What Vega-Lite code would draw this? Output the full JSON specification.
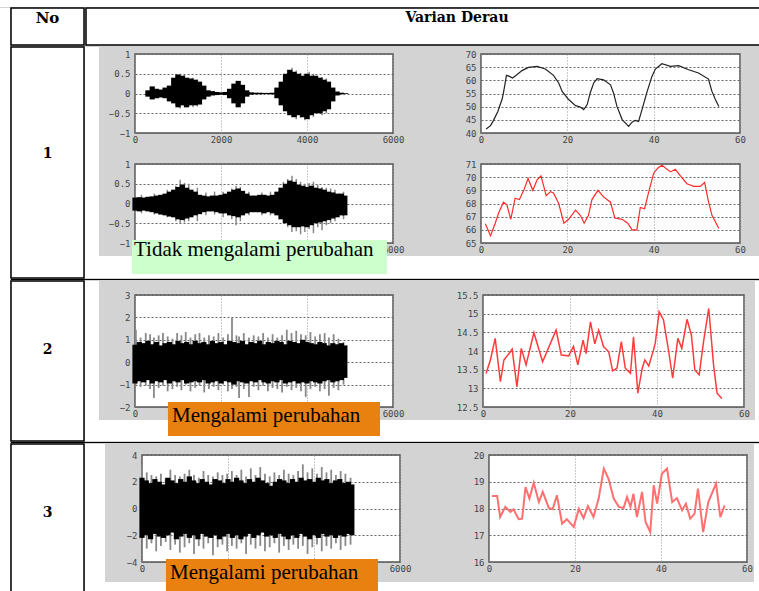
{
"$schema": "https://vega.github.io/schema/vega-lite/v6.json",
"padding": 0,
"background": "#d3d3d3",
"spacing": 0,
"datasets": {
"e": [],
"lab1": [{"label": "Tidak mengalami perubahan"}],
"lab2": [{"label": "Mengalami perubahan"}],
"a_b": [{"t":300,"lo":-0.08,"hi":0.08},{"t":400,"lo":-0.15,"hi":0.18},{"t":500,"lo":-0.12,"hi":0.12},{"t":600,"lo":-0.1,"hi":0.1},{"t":700,"lo":-0.12,"hi":0.15},{"t":800,"lo":-0.2,"hi":0.2},{"t":900,"lo":-0.25,"hi":0.4},{"t":1000,"lo":-0.35,"hi":0.48},{"t":1100,"lo":-0.3,"hi":0.45},{"t":1200,"lo":-0.35,"hi":0.4},{"t":1300,"lo":-0.3,"hi":0.38},{"t":1400,"lo":-0.3,"hi":0.35},{"t":1500,"lo":-0.28,"hi":0.3},{"t":1600,"lo":-0.15,"hi":0.2},{"t":1700,"lo":-0.08,"hi":0.08},{"t":1800,"lo":-0.05,"hi":0.06},{"t":1900,"lo":-0.04,"hi":0.04},{"t":2000,"lo":-0.03,"hi":0.03},{"t":2100,"lo":-0.04,"hi":0.04},{"t":2200,"lo":-0.12,"hi":0.12},{"t":2300,"lo":-0.25,"hi":0.25},{"t":2400,"lo":-0.35,"hi":0.32},{"t":2500,"lo":-0.25,"hi":0.22},{"t":2600,"lo":-0.08,"hi":0.08},{"t":2700,"lo":-0.03,"hi":0.03},{"t":2800,"lo":-0.02,"hi":0.02},{"t":2900,"lo":-0.02,"hi":0.02},{"t":3000,"lo":-0.015,"hi":0.015},{"t":3100,"lo":-0.015,"hi":0.015},{"t":3200,"lo":-0.02,"hi":0.02},{"t":3300,"lo":-0.12,"hi":0.15},{"t":3400,"lo":-0.3,"hi":0.3},{"t":3500,"lo":-0.45,"hi":0.5},{"t":3600,"lo":-0.55,"hi":0.6},{"t":3700,"lo":-0.6,"hi":0.55},{"t":3800,"lo":-0.55,"hi":0.5},{"t":3900,"lo":-0.6,"hi":0.45},{"t":4000,"lo":-0.65,"hi":0.5},{"t":4100,"lo":-0.55,"hi":0.45},{"t":4200,"lo":-0.5,"hi":0.45},{"t":4300,"lo":-0.5,"hi":0.4},{"t":4400,"lo":-0.45,"hi":0.35},{"t":4500,"lo":-0.4,"hi":0.3},{"t":4600,"lo":-0.2,"hi":0.15},{"t":4700,"lo":-0.05,"hi":0.05},{"t":4800,"lo":-0.02,"hi":0.02},{"t":4900,"lo":-0.01,"hi":0.01}],
"a_g": [{"t":950,"lo":-0.3,"hi":0.5},{"t":1050,"lo":-0.38,"hi":0.5},{"t":1150,"lo":-0.35,"hi":0.47},{"t":1350,"lo":-0.35,"hi":0.4},{"t":1450,"lo":-0.33,"hi":0.35},{"t":3550,"lo":-0.5,"hi":0.6},{"t":3650,"lo":-0.6,"hi":0.65},{"t":3750,"lo":-0.65,"hi":0.58},{"t":3850,"lo":-0.62,"hi":0.52},{"t":3950,"lo":-0.68,"hi":0.5},{"t":4050,"lo":-0.65,"hi":0.55},{"t":4150,"lo":-0.6,"hi":0.5},{"t":4350,"lo":-0.55,"hi":0.42},{"t":4450,"lo":-0.5,"hi":0.38}],
"c_b": [{"t":0,"lo":-0.18,"hi":0.15},{"t":100,"lo":-0.2,"hi":0.16},{"t":200,"lo":-0.18,"hi":0.15},{"t":300,"lo":-0.2,"hi":0.17},{"t":400,"lo":-0.22,"hi":0.18},{"t":500,"lo":-0.25,"hi":0.2},{"t":600,"lo":-0.28,"hi":0.22},{"t":700,"lo":-0.3,"hi":0.25},{"t":800,"lo":-0.33,"hi":0.3},{"t":900,"lo":-0.35,"hi":0.35},{"t":1000,"lo":-0.4,"hi":0.42},{"t":1100,"lo":-0.42,"hi":0.48},{"t":1200,"lo":-0.38,"hi":0.4},{"t":1300,"lo":-0.35,"hi":0.35},{"t":1400,"lo":-0.3,"hi":0.3},{"t":1500,"lo":-0.27,"hi":0.22},{"t":1600,"lo":-0.22,"hi":0.2},{"t":1700,"lo":-0.2,"hi":0.18},{"t":1800,"lo":-0.2,"hi":0.2},{"t":1900,"lo":-0.22,"hi":0.2},{"t":2000,"lo":-0.25,"hi":0.22},{"t":2100,"lo":-0.25,"hi":0.25},{"t":2200,"lo":-0.3,"hi":0.3},{"t":2300,"lo":-0.32,"hi":0.35},{"t":2400,"lo":-0.35,"hi":0.38},{"t":2500,"lo":-0.3,"hi":0.32},{"t":2600,"lo":-0.25,"hi":0.25},{"t":2700,"lo":-0.22,"hi":0.2},{"t":2800,"lo":-0.22,"hi":0.2},{"t":2900,"lo":-0.22,"hi":0.22},{"t":3000,"lo":-0.25,"hi":0.22},{"t":3100,"lo":-0.22,"hi":0.2},{"t":3200,"lo":-0.25,"hi":0.22},{"t":3300,"lo":-0.3,"hi":0.3},{"t":3400,"lo":-0.4,"hi":0.4},{"t":3500,"lo":-0.5,"hi":0.5},{"t":3600,"lo":-0.55,"hi":0.58},{"t":3700,"lo":-0.6,"hi":0.55},{"t":3800,"lo":-0.6,"hi":0.48},{"t":3900,"lo":-0.58,"hi":0.45},{"t":4000,"lo":-0.6,"hi":0.42},{"t":4100,"lo":-0.55,"hi":0.45},{"t":4200,"lo":-0.5,"hi":0.4},{"t":4300,"lo":-0.48,"hi":0.38},{"t":4400,"lo":-0.45,"hi":0.35},{"t":4500,"lo":-0.42,"hi":0.3},{"t":4600,"lo":-0.38,"hi":0.28},{"t":4700,"lo":-0.35,"hi":0.25},{"t":4800,"lo":-0.3,"hi":0.25},{"t":4880,"lo":-0.3,"hi":0.2}],
"c_g": [{"t":150,"lo":-0.25,"hi":0.22},{"t":450,"lo":-0.28,"hi":0.25},{"t":750,"lo":-0.35,"hi":0.35},{"t":950,"lo":-0.45,"hi":0.45},{"t":1050,"lo":-0.5,"hi":0.6},{"t":1150,"lo":-0.48,"hi":0.52},{"t":1250,"lo":-0.45,"hi":0.5},{"t":1450,"lo":-0.45,"hi":0.4},{"t":1650,"lo":-0.3,"hi":0.28},{"t":1850,"lo":-0.28,"hi":0.3},{"t":2050,"lo":-0.35,"hi":0.3},{"t":2250,"lo":-0.4,"hi":0.38},{"t":2350,"lo":-0.55,"hi":0.45},{"t":2450,"lo":-0.45,"hi":0.42},{"t":2650,"lo":-0.3,"hi":0.3},{"t":2950,"lo":-0.3,"hi":0.28},{"t":3150,"lo":-0.3,"hi":0.3},{"t":3350,"lo":-0.4,"hi":0.4},{"t":3450,"lo":-0.5,"hi":0.55},{"t":3550,"lo":-0.6,"hi":0.62},{"t":3650,"lo":-0.72,"hi":0.7},{"t":3750,"lo":-0.7,"hi":0.62},{"t":3850,"lo":-0.78,"hi":0.55},{"t":3950,"lo":-0.72,"hi":0.5},{"t":4050,"lo":-0.65,"hi":0.52},{"t":4150,"lo":-0.75,"hi":0.55},{"t":4250,"lo":-0.6,"hi":0.48},{"t":4350,"lo":-0.68,"hi":0.42},{"t":4450,"lo":-0.55,"hi":0.4},{"t":4550,"lo":-0.5,"hi":0.38},{"t":4650,"lo":-0.45,"hi":0.35},{"t":4850,"lo":-0.4,"hi":0.3}],
"b": [{"x":1.2,"v":41.5},{"x":2.2,"v":42.8},{"x":2.9,"v":44.8},{"x":3.9,"v":48.2},{"x":4.9,"v":52.9},{"x":5.2,"v":55.2},{"x":5.9,"v":61.9},{"x":6.6,"v":61.5},{"x":7.3,"v":60.9},{"x":8.3,"v":62.1},{"x":9.5,"v":63.7},{"x":11.0,"v":64.9},{"x":13.0,"v":65.3},{"x":14.9,"v":64.3},{"x":16.8,"v":61.9},{"x":18.0,"v":59.0},{"x":18.8,"v":55.8},{"x":20.3,"v":52.7},{"x":21.9,"v":50.4},{"x":23.0,"v":49.9},{"x":23.8,"v":48.9},{"x":24.6,"v":50.8},{"x":25.3,"v":55.2},{"x":26.1,"v":59.0},{"x":26.9,"v":60.6},{"x":28.4,"v":60.2},{"x":30.0,"v":58.3},{"x":30.7,"v":55.2},{"x":31.5,"v":50.1},{"x":32.7,"v":45.1},{"x":34.2,"v":42.5},{"x":35.0,"v":44.1},{"x":35.7,"v":44.8},{"x":36.5,"v":44.4},{"x":37.3,"v":48.9},{"x":38.5,"v":55.8},{"x":39.6,"v":61.5},{"x":40.4,"v":64.3},{"x":41.9,"v":66.3},{"x":43.9,"v":65.3},{"x":45.8,"v":65.6},{"x":48.1,"v":64.0},{"x":50.4,"v":62.8},{"x":52.7,"v":60.5},{"x":53.5,"v":55.8},{"x":54.3,"v":52.7},{"x":55.1,"v":50.1}],
"d": [{"x":1.0,"v":66.47},{"x":2.2,"v":65.56},{"x":3.3,"v":66.5},{"x":4.1,"v":67.3},{"x":5.2,"v":68.1},{"x":6.0,"v":67.9},{"x":6.9,"v":66.8},{"x":7.9,"v":68.4},{"x":8.9,"v":68.3},{"x":9.9,"v":69.0},{"x":10.9,"v":69.9},{"x":12.0,"v":69.0},{"x":13.0,"v":69.8},{"x":13.9,"v":70.1},{"x":15.1,"v":68.6},{"x":16.1,"v":68.9},{"x":16.8,"v":68.8},{"x":18.0,"v":68.0},{"x":19.2,"v":66.5},{"x":20.3,"v":66.8},{"x":21.9,"v":67.5},{"x":23.0,"v":67.1},{"x":23.9,"v":66.5},{"x":24.9,"v":67.1},{"x":25.7,"v":68.3},{"x":27.1,"v":69.0},{"x":28.4,"v":68.5},{"x":30.0,"v":68.1},{"x":31.0,"v":66.9},{"x":32.7,"v":66.8},{"x":34.0,"v":66.5},{"x":35.0,"v":66.0},{"x":36.1,"v":66.0},{"x":36.9,"v":67.7},{"x":37.9,"v":67.6},{"x":38.8,"v":68.8},{"x":40.0,"v":70.3},{"x":41.0,"v":70.7},{"x":41.9,"v":70.9},{"x":43.9,"v":70.4},{"x":45.0,"v":70.6},{"x":46.2,"v":70.1},{"x":47.7,"v":69.5},{"x":49.3,"v":69.3},{"x":50.8,"v":69.3},{"x":51.8,"v":69.6},{"x":52.6,"v":68.3},{"x":53.5,"v":67.1},{"x":55.1,"v":66.1}],
"r2l_b": [{"t":0,"lo":-0.95,"hi":0.78},{"t":100,"lo":-0.85,"hi":0.9},{"t":200,"lo":-0.9,"hi":0.85},{"t":300,"lo":-0.8,"hi":0.95},{"t":400,"lo":-0.95,"hi":0.8},{"t":500,"lo":-0.85,"hi":0.9},{"t":600,"lo":-0.9,"hi":0.75},{"t":700,"lo":-0.8,"hi":0.85},{"t":800,"lo":-0.95,"hi":0.9},{"t":900,"lo":-0.85,"hi":0.8},{"t":1000,"lo":-0.9,"hi":0.95},{"t":1100,"lo":-0.8,"hi":0.85},{"t":1200,"lo":-0.95,"hi":0.9},{"t":1300,"lo":-0.9,"hi":0.8},{"t":1400,"lo":-0.85,"hi":0.95},{"t":1500,"lo":-0.9,"hi":0.85},{"t":1600,"lo":-0.8,"hi":0.9},{"t":1700,"lo":-0.95,"hi":0.8},{"t":1800,"lo":-0.9,"hi":0.95},{"t":1900,"lo":-0.85,"hi":0.85},{"t":2000,"lo":-0.95,"hi":0.9},{"t":2100,"lo":-0.85,"hi":0.8},{"t":2200,"lo":-0.9,"hi":0.95},{"t":2300,"lo":-1.0,"hi":0.9},{"t":2400,"lo":-0.85,"hi":0.85},{"t":2500,"lo":-0.9,"hi":0.95},{"t":2600,"lo":-0.95,"hi":0.8},{"t":2700,"lo":-0.85,"hi":0.9},{"t":2800,"lo":-0.9,"hi":0.85},{"t":2900,"lo":-0.8,"hi":0.95},{"t":3000,"lo":-0.9,"hi":0.8},{"t":3100,"lo":-0.95,"hi":0.9},{"t":3200,"lo":-0.85,"hi":0.85},{"t":3300,"lo":-0.9,"hi":0.95},{"t":3400,"lo":-0.8,"hi":0.9},{"t":3500,"lo":-0.95,"hi":0.8},{"t":3600,"lo":-0.9,"hi":0.95},{"t":3700,"lo":-0.85,"hi":0.9},{"t":3800,"lo":-0.95,"hi":0.85},{"t":3900,"lo":-0.9,"hi":1.0},{"t":4000,"lo":-0.95,"hi":0.9},{"t":4100,"lo":-0.85,"hi":0.85},{"t":4200,"lo":-0.9,"hi":0.8},{"t":4300,"lo":-0.95,"hi":0.9},{"t":4400,"lo":-0.85,"hi":0.85},{"t":4500,"lo":-0.8,"hi":0.75},{"t":4600,"lo":-0.9,"hi":0.85},{"t":4700,"lo":-0.85,"hi":0.8},{"t":4800,"lo":-0.8,"hi":0.85},{"t":4880,"lo":-0.7,"hi":0.75}],
"r2l_g": [{"t":20,"lo":-1.0,"hi":1.45},{"t":130,"lo":-1.1,"hi":1.1},{"t":250,"lo":-1.05,"hi":1.3},{"t":350,"lo":-1.2,"hi":1.25},{"t":440,"lo":-1.6,"hi":1.1},{"t":550,"lo":-1.15,"hi":1.2},{"t":650,"lo":-1.05,"hi":1.3},{"t":760,"lo":-1.3,"hi":1.15},{"t":870,"lo":-1.2,"hi":1.05},{"t":980,"lo":-1.1,"hi":1.3},{"t":1080,"lo":-1.25,"hi":1.2},{"t":1180,"lo":-1.0,"hi":1.35},{"t":1290,"lo":-1.3,"hi":1.1},{"t":1400,"lo":-1.15,"hi":1.25},{"t":1500,"lo":-1.05,"hi":1.3},{"t":1610,"lo":-1.35,"hi":1.1},{"t":1720,"lo":-1.2,"hi":1.2},{"t":1830,"lo":-1.1,"hi":1.15},{"t":1940,"lo":-1.25,"hi":1.3},{"t":2050,"lo":-1.0,"hi":1.1},{"t":2160,"lo":-1.3,"hi":1.25},{"t":2256,"lo":-1.2,"hi":2.0},{"t":2360,"lo":-1.1,"hi":1.2},{"t":2420,"lo":-1.6,"hi":1.15},{"t":2530,"lo":-1.2,"hi":1.3},{"t":2650,"lo":-1.55,"hi":1.1},{"t":2760,"lo":-1.1,"hi":1.2},{"t":2870,"lo":-1.25,"hi":1.15},{"t":2980,"lo":-1.05,"hi":1.3},{"t":3090,"lo":-1.3,"hi":1.1},{"t":3200,"lo":-1.15,"hi":1.25},{"t":3310,"lo":-1.2,"hi":1.1},{"t":3420,"lo":-1.35,"hi":1.2},{"t":3530,"lo":-1.1,"hi":1.45},{"t":3640,"lo":-1.25,"hi":1.3},{"t":3750,"lo":-1.15,"hi":1.4},{"t":3860,"lo":-1.3,"hi":1.25},{"t":3970,"lo":-1.55,"hi":1.2},{"t":4080,"lo":-1.2,"hi":1.35},{"t":4190,"lo":-1.1,"hi":1.15},{"t":4300,"lo":-1.3,"hi":1.25},{"t":4410,"lo":-1.2,"hi":1.3},{"t":4510,"lo":-1.5,"hi":1.1},{"t":4620,"lo":-1.15,"hi":1.25},{"t":4730,"lo":-1.25,"hi":1.05},{"t":4850,"lo":-1.0,"hi":0.9}],
"r2r": [{"x":0.7,"v":13.40},{"x":1.7,"v":13.76},{"x":2.8,"v":14.34},{"x":4.0,"v":13.18},{"x":4.8,"v":13.76},{"x":6.3,"v":13.98},{"x":6.7,"v":14.05},{"x":7.8,"v":13.04},{"x":8.8,"v":14.07},{"x":9.9,"v":13.63},{"x":11.7,"v":14.49},{"x":13.7,"v":13.71},{"x":16.8,"v":14.56},{"x":18.0,"v":13.89},{"x":19.7,"v":13.87},{"x":20.8,"v":14.12},{"x":21.8,"v":13.63},{"x":23.0,"v":14.29},{"x":23.7,"v":13.93},{"x":24.7,"v":14.78},{"x":25.7,"v":14.19},{"x":26.6,"v":14.56},{"x":27.7,"v":14.12},{"x":28.9,"v":13.98},{"x":29.8,"v":13.47},{"x":30.8,"v":13.54},{"x":31.8,"v":14.25},{"x":32.7,"v":13.54},{"x":33.9,"v":13.40},{"x":34.6,"v":14.38},{"x":35.6,"v":12.87},{"x":36.6,"v":13.54},{"x":37.2,"v":13.76},{"x":38.1,"v":13.60},{"x":39.2,"v":14.03},{"x":39.6,"v":14.21},{"x":40.5,"v":15.05},{"x":41.5,"v":14.83},{"x":42.7,"v":13.98},{"x":43.6,"v":13.27},{"x":44.8,"v":14.34},{"x":45.7,"v":14.07},{"x":46.9,"v":14.85},{"x":47.9,"v":14.43},{"x":48.7,"v":13.49},{"x":49.7,"v":13.36},{"x":50.7,"v":14.25},{"x":51.9,"v":15.14},{"x":53.0,"v":13.63},{"x":53.8,"v":12.87},{"x":54.9,"v":12.73}],
"r3l_b": [{"t":0,"lo":-2.2,"hi":2.3},{"t":100,"lo":-2.0,"hi":2.1},{"t":200,"lo":-2.3,"hi":1.9},{"t":300,"lo":-1.9,"hi":2.2},{"t":400,"lo":-2.1,"hi":2.0},{"t":500,"lo":-2.2,"hi":1.8},{"t":600,"lo":-2.0,"hi":2.3},{"t":700,"lo":-1.8,"hi":2.1},{"t":800,"lo":-2.3,"hi":1.9},{"t":900,"lo":-2.1,"hi":2.2},{"t":1000,"lo":-1.9,"hi":2.0},{"t":1100,"lo":-2.2,"hi":2.4},{"t":1200,"lo":-2.0,"hi":2.1},{"t":1300,"lo":-2.3,"hi":1.9},{"t":1400,"lo":-1.9,"hi":2.2},{"t":1500,"lo":-2.1,"hi":2.0},{"t":1600,"lo":-2.2,"hi":1.8},{"t":1700,"lo":-2.0,"hi":2.2},{"t":1800,"lo":-2.3,"hi":2.1},{"t":1900,"lo":-2.1,"hi":1.9},{"t":2000,"lo":-1.9,"hi":2.2},{"t":2100,"lo":-2.2,"hi":2.0},{"t":2200,"lo":-2.0,"hi":2.3},{"t":2300,"lo":-2.3,"hi":2.1},{"t":2400,"lo":-2.1,"hi":1.9},{"t":2500,"lo":-1.9,"hi":2.2},{"t":2600,"lo":-2.2,"hi":2.0},{"t":2700,"lo":-2.0,"hi":2.3},{"t":2800,"lo":-1.8,"hi":2.1},{"t":2900,"lo":-2.1,"hi":1.9},{"t":3000,"lo":-2.0,"hi":1.7},{"t":3100,"lo":-2.2,"hi":2.0},{"t":3200,"lo":-1.9,"hi":2.2},{"t":3300,"lo":-2.1,"hi":2.1},{"t":3400,"lo":-2.3,"hi":1.9},{"t":3500,"lo":-2.0,"hi":2.2},{"t":3600,"lo":-2.2,"hi":2.0},{"t":3700,"lo":-1.9,"hi":2.3},{"t":3800,"lo":-2.1,"hi":2.1},{"t":3900,"lo":-2.3,"hi":2.2},{"t":4000,"lo":-2.0,"hi":2.0},{"t":4100,"lo":-2.2,"hi":2.3},{"t":4200,"lo":-1.9,"hi":2.1},{"t":4300,"lo":-2.1,"hi":2.2},{"t":4400,"lo":-2.0,"hi":1.9},{"t":4500,"lo":-2.2,"hi":2.1},{"t":4600,"lo":-2.0,"hi":2.2},{"t":4700,"lo":-2.1,"hi":1.9},{"t":4800,"lo":-1.9,"hi":2.0},{"t":4880,"lo":-2.0,"hi":1.8}],
"r3l_g": [{"t":0,"lo":-2.4,"hi":3.2},{"t":110,"lo":-3.0,"hi":2.7},{"t":220,"lo":-2.6,"hi":2.5},{"t":330,"lo":-3.2,"hi":2.4},{"t":440,"lo":-2.8,"hi":2.6},{"t":550,"lo":-2.5,"hi":2.2},{"t":660,"lo":-3.1,"hi":2.9},{"t":770,"lo":-2.7,"hi":2.5},{"t":880,"lo":-3.3,"hi":2.4},{"t":990,"lo":-2.9,"hi":2.6},{"t":1100,"lo":-2.6,"hi":2.9},{"t":1210,"lo":-3.4,"hi":2.5},{"t":1320,"lo":-2.8,"hi":2.3},{"t":1430,"lo":-3.0,"hi":2.8},{"t":1540,"lo":-2.6,"hi":2.5},{"t":1650,"lo":-3.5,"hi":2.4},{"t":1760,"lo":-2.9,"hi":2.7},{"t":1870,"lo":-2.7,"hi":2.5},{"t":1980,"lo":-3.2,"hi":2.6},{"t":2090,"lo":-2.8,"hi":2.8},{"t":2200,"lo":-3.0,"hi":2.5},{"t":2310,"lo":-2.6,"hi":2.9},{"t":2420,"lo":-3.4,"hi":2.4},{"t":2530,"lo":-2.7,"hi":3.0},{"t":2640,"lo":-3.0,"hi":2.5},{"t":2750,"lo":-2.8,"hi":3.1},{"t":2860,"lo":-3.2,"hi":2.6},{"t":2970,"lo":-2.9,"hi":2.4},{"t":3080,"lo":-2.6,"hi":2.7},{"t":3190,"lo":-3.3,"hi":2.5},{"t":3300,"lo":-2.8,"hi":2.9},{"t":3410,"lo":-3.1,"hi":2.6},{"t":3520,"lo":-2.7,"hi":2.5},{"t":3630,"lo":-3.0,"hi":2.8},{"t":3740,"lo":-2.8,"hi":3.3},{"t":3850,"lo":-3.4,"hi":2.7},{"t":3960,"lo":-2.9,"hi":3.0},{"t":4070,"lo":-2.7,"hi":2.6},{"t":4180,"lo":-3.2,"hi":3.1},{"t":4290,"lo":-2.8,"hi":2.7},{"t":4400,"lo":-3.0,"hi":2.9},{"t":4510,"lo":-2.6,"hi":2.5},{"t":4620,"lo":-3.1,"hi":2.8},{"t":4730,"lo":-2.8,"hi":2.6},{"t":4850,"lo":-2.7,"hi":2.3}],
"r3r": [{"x":0.7,"v":18.47},{"x":1.9,"v":18.47},{"x":2.6,"v":17.68},{"x":3.8,"v":18.06},{"x":5.0,"v":17.87},{"x":5.7,"v":17.97},{"x":6.9,"v":17.60},{"x":7.7,"v":17.62},{"x":8.5,"v":18.80},{"x":9.4,"v":18.37},{"x":10.4,"v":18.96},{"x":11.6,"v":18.24},{"x":12.5,"v":18.62},{"x":13.9,"v":18.02},{"x":14.8,"v":17.97},{"x":15.8,"v":18.49},{"x":17.0,"v":17.43},{"x":18.1,"v":17.60},{"x":19.7,"v":17.31},{"x":20.9,"v":17.99},{"x":22.0,"v":17.64},{"x":23.0,"v":18.09},{"x":24.3,"v":17.68},{"x":25.5,"v":18.37},{"x":26.7,"v":19.49},{"x":27.8,"v":19.11},{"x":29.0,"v":18.37},{"x":30.2,"v":18.06},{"x":31.3,"v":18.02},{"x":32.1,"v":18.43},{"x":32.9,"v":18.06},{"x":33.6,"v":18.55},{"x":34.4,"v":17.68},{"x":35.6,"v":18.62},{"x":36.4,"v":17.50},{"x":37.5,"v":17.12},{"x":38.3,"v":18.87},{"x":39.1,"v":18.18},{"x":40.2,"v":19.30},{"x":41.4,"v":19.49},{"x":42.6,"v":18.24},{"x":43.7,"v":18.39},{"x":44.9,"v":17.93},{"x":45.8,"v":18.18},{"x":46.8,"v":17.62},{"x":47.8,"v":17.81},{"x":48.6,"v":18.74},{"x":49.8,"v":17.12},{"x":51.0,"v":18.24},{"x":52.3,"v":18.74},{"x":52.8,"v":18.93},{"x":53.8,"v":17.68},{"x":54.8,"v":18.12}]
},
"vconcat": [
{"width":759,"height":7,"view":{"fill":"white"},"data":{"name":"e"},"mark":"point"},
{"spacing":0,"hconcat":[
{"width":10,"height":584,"view":{"fill":"white"},"data":{"name":"e"},"mark":"point"},
{"spacing":0,"vconcat":[
{"spacing":0,"hconcat":[
{"width":73,"height":37,"view":{"fill":"white","stroke":"black","strokeWidth":1.5},"data":{"values":[{"t":"No"}]},"mark":{"type":"text","font":"DejaVu Serif","fontWeight":"bold","fontSize":15,"dy":-9,"color":"black"},"encoding":{"text":{"field":"t"}}},
{"width":676,"height":37,"view":{"fill":"white","stroke":"black","strokeWidth":1.5},"data":{"values":[{"t":"Varian Derau"}]},"mark":{"type":"text","font":"DejaVu Serif","fontWeight":"bold","fontSize":14,"dy":-9,"dx":33,"color":"black"},"encoding":{"text":{"field":"t"}}}
]},
{"spacing":0,"hconcat":[
{"width":73,"height":231,"view":{"fill":"white","stroke":"black","strokeWidth":1.5},"data":{"values":[{"t":"1"}]},"mark":{"type":"text","font":"DejaVu Serif","fontWeight":"bold","fontSize":14,"dy":-9,"color":"black"},"encoding":{"text":{"field":"t"}}},
{"columns":6,"spacing":0,"bounds":"flush","align":"each","concat":[
{"width":14,"height":7,"view":{"fill":"white"},"data":{"name":"e"},"mark":"point"},
{"width":36,"height":1,"data":{"name":"e"},"mark":"point"},
{"width":258,"height":1,"data":{"name":"e"},"mark":"point"},
{"width":88,"height":1,"data":{"name":"e"},"mark":"point"},
{"width":259,"height":1,"data":{"name":"e"},"mark":"point"},
{"width":21,"height":1,"data":{"name":"e"},"mark":"point"},

{"width":14,"height":79,"view":{"fill":"white"},"data":{"name":"e"},"mark":"point"},
{"width":1,"height":1,"data":{"name":"e"},"mark":"point"},
{"width":258,"height":79,"view":{"fill":"white","stroke":"#555","strokeWidth":1.5},
 "encoding":{"x":{"field":"t","type":"quantitative","scale":{"domain":[0,6000],"nice":false},"axis":{"values":[0,2000,4000,6000],"format":"d","title":null}},"y":{"field":"lo","type":"quantitative","scale":{"domain":[-1,1],"nice":false},"axis":{"values":[-1,-0.5,0,0.5,1],"format":"~g","title":null}},"y2":{"field":"hi"}},
 "layer":[{"data":{"name":"a_g"},"mark":{"type":"rule","color":"#888","strokeWidth":1.5}},{"data":{"name":"a_b"},"mark":{"type":"rule","color":"black","strokeWidth":5.2}}]},
{"width":1,"height":1,"data":{"name":"e"},"mark":"point"},
{"width":259,"height":79,"view":{"fill":"white","stroke":"#555","strokeWidth":1.5},"data":{"name":"b"},"mark":{"type":"line","color":"#222","strokeWidth":1.2},
 "encoding":{"x":{"field":"x","type":"quantitative","scale":{"domain":[0,60],"nice":false},"axis":{"values":[0,20,40,60],"title":null}},"y":{"field":"v","type":"quantitative","scale":{"domain":[40,70],"nice":false},"axis":{"values":[40,45,50,55,60,65,70],"format":"~g","title":null}}}},
{"width":1,"height":1,"data":{"name":"e"},"mark":"point"},

{"width":14,"height":31,"view":{"fill":"white"},"data":{"name":"e"},"mark":"point"},
{"width":1,"height":1,"data":{"name":"e"},"mark":"point"},
{"width":1,"height":1,"data":{"name":"e"},"mark":"point"},
{"width":1,"height":1,"data":{"name":"e"},"mark":"point"},
{"width":1,"height":1,"data":{"name":"e"},"mark":"point"},
{"width":1,"height":1,"data":{"name":"e"},"mark":"point"},

{"width":14,"height":79,"view":{"fill":"white"},"data":{"name":"e"},"mark":"point"},
{"width":1,"height":1,"data":{"name":"e"},"mark":"point"},
{"width":258,"height":79,"view":{"fill":"white","stroke":"#555","strokeWidth":1.5},
 "encoding":{"x":{"field":"t","type":"quantitative","scale":{"domain":[0,6000],"nice":false},"axis":{"values":[0,2000,4000,6000],"format":"d","title":null,"labelExpr":"datum.value == 6000 ? datum.label : ''"}},"y":{"field":"lo","type":"quantitative","scale":{"domain":[-1,1],"nice":false},"axis":{"values":[-1,-0.5,0,0.5,1],"format":"~g","title":null}},"y2":{"field":"hi"}},
 "layer":[{"data":{"name":"c_g"},"mark":{"type":"rule","color":"#888","strokeWidth":1.5}},{"data":{"name":"c_b"},"mark":{"type":"rule","color":"black","strokeWidth":5.2}}]},
{"width":1,"height":1,"data":{"name":"e"},"mark":"point"},
{"width":259,"height":79,"view":{"fill":"white","stroke":"#555","strokeWidth":1.5},"data":{"name":"d"},"mark":{"type":"line","color":"#ff2a2a","strokeWidth":1.2},
 "encoding":{"x":{"field":"x","type":"quantitative","scale":{"domain":[0,60],"nice":false},"axis":{"values":[0,20,40,60],"title":null}},"y":{"field":"v","type":"quantitative","scale":{"domain":[65,71],"nice":false},"axis":{"values":[65,66,67,68,69,70,71],"format":"~g","title":null}}}},
{"width":1,"height":1,"data":{"name":"e"},"mark":"point"},

{"width":14,"height":13,"view":{"fill":"white"},"data":{"name":"e"},"mark":"point"},
{"width":1,"height":1,"data":{"name":"e"},"mark":"point"},
{"width":1,"height":1,"data":{"name":"e"},"mark":"point"},
{"width":1,"height":1,"data":{"name":"e"},"mark":"point"},
{"width":1,"height":1,"data":{"name":"e"},"mark":"point"},
{"width":1,"height":1,"data":{"name":"e"},"mark":"point"},

{"width":14,"height":22,"view":{"fill":"white"},"data":{"name":"e"},"mark":"point"},
{"width":36,"height":22,"view":{"fill":"white"},"data":{"name":"e"},"mark":"point"},
{"width":258,"height":22,"view":{"fill":"white"},"data":{"name":"lab1"},
 "layer":[
 {"mark":{"type":"rect","fill":"#ccffcc"},"encoding":{"x":{"datum":-70,"type":"quantitative","scale":{"domain":[0,6000],"nice":false,"zero":false},"axis":null},"x2":{"datum":5860},"y":{"datum":-0.924,"type":"quantitative","scale":{"domain":[-1.886,-1.329],"nice":false,"zero":false},"axis":null},"y2":{"datum":-1.785}}},
 {"mark":{"type":"text","align":"left","baseline":"alphabetic","font":"Liberation Serif","fontSize":21,"color":"black"},"encoding":{"x":{"datum":-23,"type":"quantitative"},"y":{"datum":-1.337,"type":"quantitative"},"text":{"field":"label"}}}
 ]},
{"width":88,"height":22,"view":{"fill":"white"},"data":{"name":"e"},"mark":"point"},
{"width":259,"height":22,"view":{"fill":"white"},"data":{"name":"e"},"mark":"point"},
{"width":21,"height":22,"view":{"fill":"white"},"data":{"name":"e"},"mark":"point"}
]}
]},
{"width":749,"height":1,"view":{"fill":"black"},"data":{"name":"e"},"mark":"point"},
{"spacing":0,"hconcat":[
{"width":73,"height":160,"view":{"fill":"white","stroke":"black","strokeWidth":1.5},"data":{"values":[{"t":"2"}]},"mark":{"type":"text","font":"DejaVu Serif","fontWeight":"bold","fontSize":14,"dy":-11,"color":"black"},"encoding":{"text":{"field":"t"}}},
{"columns":7,"spacing":0,"bounds":"flush","align":"each","concat":[
{"width":14,"height":14,"view":{"fill":"white"},"data":{"name":"e"},"mark":"point"},
{"width":36,"height":1,"data":{"name":"e"},"mark":"point"},
{"width":258,"height":1,"data":{"name":"e"},"mark":"point"},
{"width":90,"height":1,"data":{"name":"e"},"mark":"point"},
{"width":261,"height":1,"data":{"name":"e"},"mark":"point"},
{"width":11,"height":1,"data":{"name":"e"},"mark":"point"},
{"width":6,"height":14,"view":{"fill":"white"},"data":{"name":"e"},"mark":"point"},

{"width":14,"height":112,"view":{"fill":"white"},"data":{"name":"e"},"mark":"point"},
{"width":1,"height":1,"data":{"name":"e"},"mark":"point"},
{"width":258,"height":112,"view":{"fill":"white","stroke":"#555","strokeWidth":1.5},
 "encoding":{"x":{"field":"t","type":"quantitative","scale":{"domain":[0,6000],"nice":false},"axis":{"values":[0,2000,4000,6000],"format":"d","title":null,"labelExpr":"datum.value == 2000 || datum.value == 4000 ? '' : datum.label"}},"y":{"field":"lo","type":"quantitative","scale":{"domain":[-2,3],"nice":false},"axis":{"values":[-2,-1,0,1,2,3],"format":"~g","title":null}},"y2":{"field":"hi"}},
 "layer":[{"data":{"name":"r2l_g"},"mark":{"type":"rule","color":"#888","strokeWidth":1.8}},{"data":{"name":"r2l_b"},"mark":{"type":"rule","color":"black","strokeWidth":5.2}}]},
{"width":1,"height":1,"data":{"name":"e"},"mark":"point"},
{"width":261,"height":112,"view":{"fill":"white","stroke":"#555","strokeWidth":1.5},"data":{"name":"r2r"},"mark":{"type":"line","color":"#ff3b3b","strokeWidth":1.5},
 "encoding":{"x":{"field":"x","type":"quantitative","scale":{"domain":[0,60],"nice":false},"axis":{"values":[0,20,40,60],"title":null}},"y":{"field":"v","type":"quantitative","scale":{"domain":[12.5,15.5],"nice":false},"axis":{"values":[12.5,13,13.5,14,14.5,15,15.5],"format":"~g","title":null}}}},
{"width":1,"height":1,"data":{"name":"e"},"mark":"point"},
{"width":6,"height":112,"view":{"fill":"white"},"data":{"name":"e"},"mark":"point"},

{"width":14,"height":13,"view":{"fill":"white"},"data":{"name":"e"},"mark":"point"},
{"width":1,"height":1,"data":{"name":"e"},"mark":"point"},
{"width":1,"height":1,"data":{"name":"e"},"mark":"point"},
{"width":1,"height":1,"data":{"name":"e"},"mark":"point"},
{"width":1,"height":1,"data":{"name":"e"},"mark":"point"},
{"width":1,"height":1,"data":{"name":"e"},"mark":"point"},
{"width":6,"height":13,"view":{"fill":"white"},"data":{"name":"e"},"mark":"point"},

{"width":14,"height":21,"view":{"fill":"white"},"data":{"name":"e"},"mark":"point"},
{"width":36,"height":21,"view":{"fill":"white"},"data":{"name":"e"},"mark":"point"},
{"width":258,"height":21,"view":{"fill":"white"},"data":{"name":"lab2"},
 "layer":[
 {"mark":{"type":"rect","fill":"#e8810f"},"encoding":{"x":{"datum":767,"type":"quantitative","scale":{"domain":[0,6000],"nice":false,"zero":false},"axis":null},"x2":{"datum":5698},"y":{"datum":-1.777,"type":"quantitative","scale":{"domain":[-3.518,-2.58],"nice":false,"zero":false},"axis":null},"y2":{"datum":-3.295}}},
 {"mark":{"type":"text","align":"left","baseline":"alphabetic","font":"Liberation Serif","fontSize":21,"color":"black"},"encoding":{"x":{"datum":860,"type":"quantitative"},"y":{"datum":-2.67,"type":"quantitative"},"text":{"field":"label"}}}
 ]},
{"width":90,"height":21,"view":{"fill":"white"},"data":{"name":"e"},"mark":"point"},
{"width":261,"height":21,"view":{"fill":"white"},"data":{"name":"e"},"mark":"point"},
{"width":11,"height":21,"view":{"fill":"white"},"data":{"name":"e"},"mark":"point"},
{"width":6,"height":21,"view":{"fill":"white"},"data":{"name":"e"},"mark":"point"}
]}
]},
{"width":749,"height":1,"view":{"fill":"black"},"data":{"name":"e"},"mark":"point"},
{"spacing":0,"hconcat":[
{"width":73,"height":154,"view":{"fill":"white","stroke":"black","strokeWidth":1.5},"data":{"values":[{"t":"3"}]},"mark":{"type":"text","font":"DejaVu Serif","fontWeight":"bold","fontSize":14,"dy":-8,"color":"black"},"encoding":{"text":{"field":"t"}}},
{"columns":7,"spacing":0,"bounds":"flush","align":"each","concat":[
{"width":20,"height":11,"view":{"fill":"white"},"data":{"name":"e"},"mark":"point"},
{"width":37,"height":1,"data":{"name":"e"},"mark":"point"},
{"width":258,"height":1,"data":{"name":"e"},"mark":"point"},
{"width":89,"height":1,"data":{"name":"e"},"mark":"point"},
{"width":258,"height":1,"data":{"name":"e"},"mark":"point"},
{"width":7,"height":1,"data":{"name":"e"},"mark":"point"},
{"width":7,"height":11,"view":{"fill":"white"},"data":{"name":"e"},"mark":"point"},

{"width":20,"height":107,"view":{"fill":"white"},"data":{"name":"e"},"mark":"point"},
{"width":1,"height":1,"data":{"name":"e"},"mark":"point"},
{"width":258,"height":107,"view":{"fill":"white","stroke":"#555","strokeWidth":1.5},
 "encoding":{"x":{"field":"t","type":"quantitative","scale":{"domain":[0,6000],"nice":false},"axis":{"values":[0,2000,4000,6000],"format":"d","title":null,"labelExpr":"datum.value == 2000 || datum.value == 4000 ? '' : datum.label"}},"y":{"field":"lo","type":"quantitative","scale":{"domain":[-4,4],"nice":false},"axis":{"values":[-4,-2,0,2,4],"format":"~g","title":null}},"y2":{"field":"hi"}},
 "layer":[{"data":{"name":"r3l_g"},"mark":{"type":"rule","color":"#888","strokeWidth":1.8}},{"data":{"name":"r3l_b"},"mark":{"type":"rule","color":"black","strokeWidth":5.2}}]},
{"width":1,"height":1,"data":{"name":"e"},"mark":"point"},
{"width":258,"height":107,"view":{"fill":"white","stroke":"#555","strokeWidth":1.5},"data":{"name":"r3r"},"mark":{"type":"line","color":"#ff7070","strokeWidth":2},
 "encoding":{"x":{"field":"x","type":"quantitative","scale":{"domain":[0,60],"nice":false},"axis":{"values":[0,20,40,60],"title":null}},"y":{"field":"v","type":"quantitative","scale":{"domain":[16,20],"nice":false},"axis":{"values":[16,17,18,19,20],"format":"~g","title":null}}}},
{"width":1,"height":1,"data":{"name":"e"},"mark":"point"},
{"width":7,"height":107,"view":{"fill":"white"},"data":{"name":"e"},"mark":"point"},

{"width":20,"height":20,"view":{"fill":"white"},"data":{"name":"e"},"mark":"point"},
{"width":1,"height":1,"data":{"name":"e"},"mark":"point"},
{"width":1,"height":1,"data":{"name":"e"},"mark":"point"},
{"width":1,"height":1,"data":{"name":"e"},"mark":"point"},
{"width":1,"height":1,"data":{"name":"e"},"mark":"point"},
{"width":1,"height":1,"data":{"name":"e"},"mark":"point"},
{"width":7,"height":20,"view":{"fill":"white"},"data":{"name":"e"},"mark":"point"},

{"width":20,"height":16,"view":{"fill":"white"},"data":{"name":"e"},"mark":"point"},
{"width":37,"height":16,"view":{"fill":"white"},"data":{"name":"e"},"mark":"point"},
{"width":258,"height":16,"view":{"fill":"white"},"data":{"name":"lab2"},
 "layer":[
 {"mark":{"type":"rect","fill":"#e8810f"},"encoding":{"x":{"datum":558,"type":"quantitative","scale":{"domain":[0,6000],"nice":false,"zero":false},"axis":null},"x2":{"datum":5488},"y":{"datum":-3.776,"type":"quantitative","scale":{"domain":[-6.692,-5.495],"nice":false,"zero":false},"axis":null},"y2":{"datum":-6.318}}},
 {"mark":{"type":"text","align":"left","baseline":"alphabetic","font":"Liberation Serif","fontSize":21,"color":"black"},"encoding":{"x":{"datum":651,"type":"quantitative"},"y":{"datum":-5.271,"type":"quantitative"},"text":{"field":"label"}}}
 ]},
{"width":89,"height":16,"view":{"fill":"white"},"data":{"name":"e"},"mark":"point"},
{"width":258,"height":16,"view":{"fill":"white"},"data":{"name":"e"},"mark":"point"},
{"width":7,"height":16,"view":{"fill":"white"},"data":{"name":"e"},"mark":"point"},
{"width":7,"height":16,"view":{"fill":"white"},"data":{"name":"e"},"mark":"point"}
]}
]}
]}
]}
],
"config": {
"view": {"stroke": null},
"concat": {"spacing": 0},
"axis": {"labelFont": "DejaVu Sans Mono", "labelFontSize": 9, "labelColor": "#444", "ticks": false, "domain": false, "labelOverlap": false, "labelFlush": false, "grid": true, "gridWidth": 1},
"axisX": {"gridDash": [1, 2], "gridColor": "#999", "labelPadding": 2},
"axisY": {"gridDash": [2, 2], "gridColor": "#666", "labelPadding": 5}
}
}
